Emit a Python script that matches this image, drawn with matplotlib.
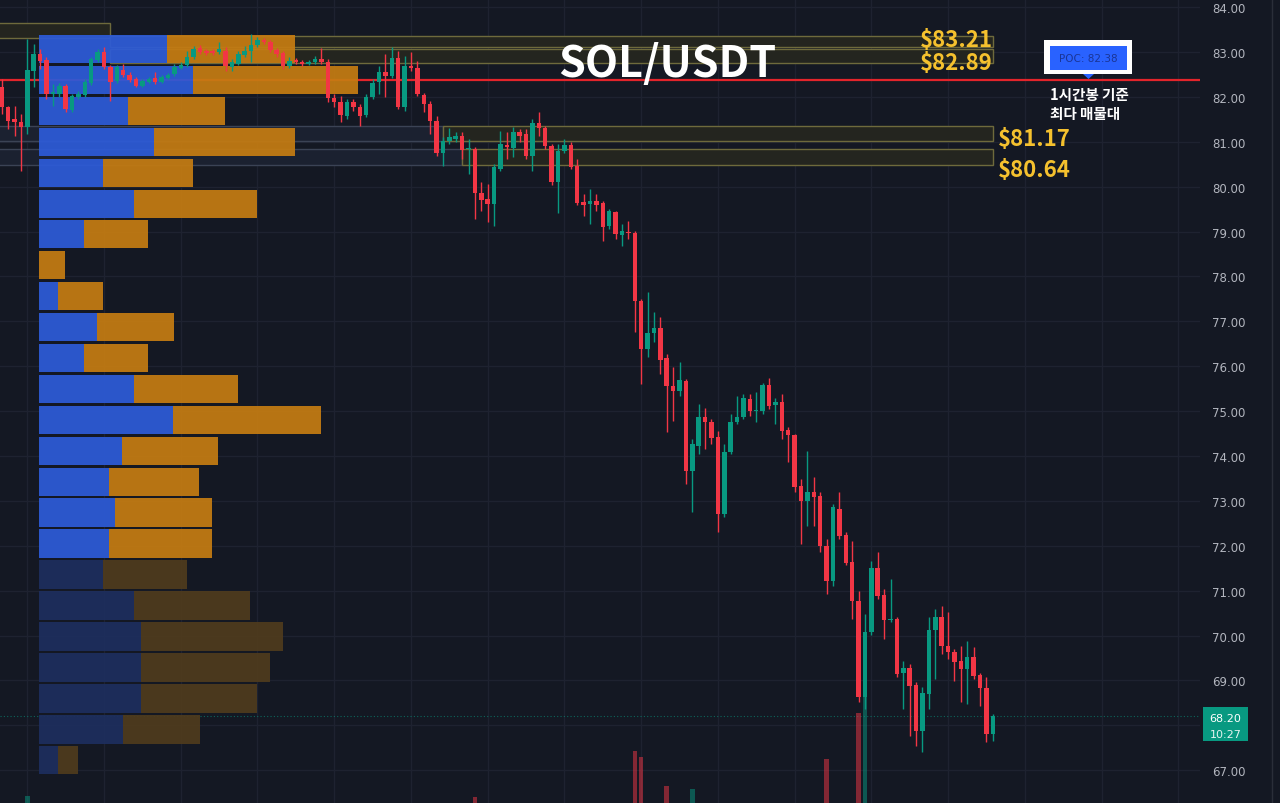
import numpy as np
import matplotlib
matplotlib.use('Agg')
import matplotlib.pyplot as plt
from matplotlib.patches import Rectangle, Polygon
from matplotlib.lines import Line2D

plt.rcParams['font.family'] = ['Noto Sans CJK KR', 'DejaVu Sans']

# SOL/USDT 1h candles
opens = [82.22, 81.77, 81.50, 81.44, 81.33, 82.57, 82.95, 82.82, 82.06, 82.06,
         82.24, 81.71, 82.00, 82.04, 82.31, 82.82, 83.00, 82.66, 82.35, 82.60,
         82.49, 82.40, 82.24, 82.33, 82.42, 82.33, 82.42, 82.51, 82.64, 82.71,
         82.89, 83.09, 83.02, 83.02, 83.00, 83.02, 82.66, 82.73, 82.93, 83.02,
         83.15, 83.26, 83.22, 83.04, 82.97, 82.69, 82.82, 82.77, 82.73, 82.77,
         82.84, 82.77, 81.97, 81.88, 81.57, 81.88, 81.77, 81.59, 82.00, 82.33,
         82.55, 82.46, 82.86, 81.77, 82.69, 82.64, 82.04, 81.84, 81.46, 80.75,
         81.01, 81.06, 81.13, 80.84, 80.84, 79.86, 79.72, 79.61, 80.39, 80.93,
         80.86, 81.21, 81.17, 80.68, 81.42, 81.30, 80.90, 80.10, 80.79, 80.93,
         80.46, 79.65, 79.61, 79.68, 79.63, 79.12, 79.43, 78.92, 78.99, 78.96,
         77.45, 76.38, 76.74, 76.85, 76.18, 75.55, 75.44, 75.67, 73.66, 74.22,
         74.86, 74.75, 74.42, 72.70, 74.08, 74.75, 74.86, 75.27, 75.00, 75.00,
         75.58, 75.13, 75.20, 74.58, 74.46, 73.33, 72.99, 73.19, 73.10, 71.99,
         71.21, 72.81, 72.24, 71.64, 70.76, 68.63, 70.07, 71.50, 70.90, 70.34,
         70.36, 69.16, 69.27, 68.89, 67.87, 68.69, 70.12, 70.41, 69.76, 69.63,
         69.43, 69.25, 69.52, 69.12, 68.83, 67.80]
highs = [82.40, 81.79, 81.79, 81.62, 83.29, 83.18, 83.06, 82.89, 82.28, 82.31,
         82.28, 82.06, 82.13, 82.40, 82.89, 83.06, 83.11, 82.71, 82.71, 82.73,
         82.55, 82.44, 82.40, 82.44, 82.55, 82.49, 82.53, 82.73, 82.77, 83.02,
         83.13, 83.15, 83.06, 83.06, 83.22, 83.11, 82.84, 83.02, 83.13, 83.40,
         83.33, 83.31, 83.26, 83.09, 83.02, 82.89, 82.86, 82.82, 82.82, 82.91,
         83.09, 82.84, 82.06, 82.02, 81.95, 81.95, 81.84, 82.06, 82.40, 82.69,
         82.95, 83.11, 83.02, 82.91, 83.00, 82.80, 82.08, 81.91, 81.57, 81.10,
         81.30, 81.21, 81.21, 81.06, 80.88, 80.10, 80.06, 80.50, 81.24, 81.21,
         81.33, 81.28, 81.28, 81.50, 81.66, 81.35, 80.95, 80.95, 81.06, 80.99,
         80.61, 79.83, 79.94, 79.83, 79.68, 79.50, 79.45, 79.16, 79.23, 79.01,
         77.49, 77.65, 77.20, 77.09, 76.27, 75.98, 76.09, 75.71, 74.37, 75.15,
         75.06, 74.82, 74.55, 74.26, 74.93, 75.33, 75.38, 75.38, 75.42, 75.62,
         75.73, 75.29, 75.38, 74.64, 74.49, 73.48, 74.11, 73.53, 73.19, 72.15,
         72.93, 73.19, 72.30, 72.10, 70.99, 70.47, 71.66, 71.86, 71.03, 71.25,
         70.41, 69.43, 69.36, 68.96, 68.85, 70.41, 70.59, 70.65, 70.52, 69.69,
         69.76, 69.87, 69.74, 69.16, 69.07, 68.25]
lows = [81.62, 81.28, 81.13, 80.35, 81.17, 82.22, 82.62, 81.95, 81.79, 82.00,
        81.66, 81.66, 81.95, 82.00, 82.26, 82.77, 82.62, 81.91, 82.31, 82.44,
        82.33, 82.22, 82.22, 82.31, 82.28, 82.31, 82.40, 82.46, 82.62, 82.66,
        82.84, 82.95, 82.93, 82.93, 82.95, 82.57, 82.57, 82.71, 82.89, 82.77,
        83.11, 83.18, 83.00, 82.89, 82.62, 82.64, 82.73, 82.69, 82.71, 82.73,
        82.73, 81.88, 81.77, 81.44, 81.50, 81.68, 81.35, 81.55, 81.95, 82.06,
        82.00, 82.42, 81.73, 81.68, 82.57, 82.02, 81.66, 81.17, 80.68, 80.46,
        80.95, 80.99, 80.61, 80.28, 79.28, 79.45, 79.21, 79.12, 80.35, 80.61,
        80.66, 80.99, 80.61, 80.35, 81.13, 80.84, 80.03, 79.41, 80.75, 80.39,
        79.59, 79.34, 79.16, 79.45, 78.79, 79.05, 78.83, 78.68, 78.83, 76.76,
        75.60, 76.20, 76.54, 75.82, 74.53, 74.78, 75.33, 73.37, 72.75, 74.04,
        74.15, 74.26, 72.30, 72.64, 74.04, 74.71, 74.82, 74.89, 74.75, 74.93,
        75.04, 74.71, 74.37, 73.86, 73.19, 72.03, 72.44, 72.44, 71.86, 70.92,
        71.10, 72.15, 71.57, 70.36, 68.51, 68.36, 70.01, 70.81, 69.92, 70.30,
        69.07, 68.36, 67.76, 67.54, 67.40, 68.36, 69.03, 69.58, 69.47, 68.98,
        68.51, 68.47, 69.03, 68.42, 67.62, 67.65]
closes = [81.77, 81.46, 81.44, 81.33, 82.60, 82.95, 82.80, 82.06, 82.11, 82.24,
          81.73, 82.02, 82.06, 82.33, 82.84, 83.00, 82.66, 82.33, 82.66, 82.49,
          82.37, 82.24, 82.35, 82.40, 82.33, 82.44, 82.49, 82.66, 82.71, 82.89,
          83.06, 83.00, 82.97, 82.97, 83.06, 82.69, 82.77, 82.95, 83.02, 83.15,
          83.26, 83.22, 83.04, 82.95, 82.69, 82.80, 82.77, 82.73, 82.77, 82.84,
          82.77, 81.97, 81.88, 81.59, 81.88, 81.77, 81.57, 82.00, 82.31, 82.55,
          82.46, 82.86, 81.77, 82.69, 82.64, 82.06, 81.84, 81.46, 80.75, 81.01,
          81.10, 81.13, 80.81, 80.86, 79.86, 79.70, 79.61, 80.43, 80.95, 80.88,
          81.21, 81.13, 80.68, 81.42, 81.30, 80.90, 80.10, 80.79, 80.93, 80.43,
          79.63, 79.59, 79.68, 79.59, 79.10, 79.45, 78.94, 79.01, 78.96, 77.45,
          76.38, 76.74, 76.85, 76.13, 75.55, 75.44, 75.69, 73.66, 74.26, 74.86,
          74.75, 74.40, 72.70, 74.08, 74.75, 74.86, 75.29, 75.00, 75.02, 75.58,
          75.11, 75.20, 74.55, 74.46, 73.30, 72.99, 73.19, 73.08, 71.99, 71.21,
          72.86, 72.21, 71.61, 70.76, 68.63, 70.07, 71.50, 70.88, 70.34, 70.36,
          69.14, 69.27, 68.87, 67.87, 68.71, 70.12, 70.41, 69.76, 69.63, 69.41,
          69.25, 69.52, 69.09, 68.83, 67.80, 68.20]

# volume bars that reach into the visible window (candle index, K SOL)
vol_idx = [4, 74, 99, 100, 104, 108, 129, 134, 135]
vol_k = [315, 310, 540, 510, 365, 350, 500, 730, 940]

# volume profile rows: centre price, buy / sell volume (K SOL)
vp_price = [83.07, 82.38, 81.69, 81.00, 80.31, 79.62, 78.94, 78.25, 77.56, 76.87,
            76.18, 75.49, 74.80, 74.11, 73.42, 72.74, 72.05, 71.36, 70.67, 69.98,
            69.29, 68.60, 67.91, 67.23]
vp_buy = [128, 154, 89, 115, 64, 95, 45, 0, 19, 58, 45, 95, 134, 83, 70, 76, 70,
          64, 95, 102, 102, 102, 84, 19]
vp_sell = [128, 165, 97, 141, 90, 123, 64, 26, 45, 77, 64, 104, 148, 96, 90, 97,
           103, 84, 116, 142, 129, 116, 77, 20]
va_low = 71.7
poc = 82.38
last_price = 68.20

# support / resistance zones: (from idx, to idx, low, high, style)
zones = [(-1, 17, 83.31, 83.64, 'olive'),
         (17, 155, 83.11, 83.35, 'olive'),
         (17, 155, 82.75, 83.06, 'olive'),
         (-1, 69, 81.01, 81.35, 'slate'),
         (69, 155, 81.01, 81.35, 'olive'),
         (-1, 72, 80.48, 80.84, 'slate'),
         (72, 155, 80.48, 80.84, 'olive')]
# label text, x idx, baseline price, alignment
zone_labels = [('$83.21', 155, 83.13, 'right'), ('$82.89', 155, 82.62, 'right'),
               ('$81.17', 155.8, 80.93, 'left'), ('$80.64', 155.8, 80.23, 'left')]

BG = '#141823'
UP, DOWN = '#089981', '#f23645'
GOLD = '#f5c12e'

fig = plt.figure(figsize=(12.8, 8.04), dpi=100, facecolor=BG)
ax = fig.add_axes([0, 0, 1200 / 1280, 1])
ax.set_facecolor(BG)
ax.set_xlim(-0.27, 187.4)
ax.set_ylim(66.27, 84.18)
for s in ax.spines.values():
    s.set_visible(False)

# price scale; the 68.00 label sits under the last-price tag
ax.yaxis.tick_right()
ax.set_yticks(range(67, 85))
ax.set_yticklabels(['' if v == 68 else '{:.2f}'.format(v) for v in range(67, 85)],
                   family='DejaVu Sans')
ax.tick_params(axis='y', length=0, pad=8.6, labelcolor='#b2b5be', labelsize=8.5)
ax.set_xticks(np.arange(4, 188, 12))
ax.tick_params(axis='x', length=0, labelbottom=False)
ax.grid(color='#1e2230', lw=1, zorder=0)
ax.set_axisbelow(True)

# zones
for x0, x1, lo, hi, st in zones:
    fc, ec = ('#24251f', '#6e6a3c') if st == 'olive' else ('#1b2130', '#3b4355')
    ax.add_patch(Rectangle((x0, lo), x1 - x0, hi - lo, fc=fc, ec=ec, lw=1, zorder=1))
for txt, x, y, ha in zone_labels:
    ax.text(x, y, txt, color=GOLD, fontsize=16, fontweight='bold', ha=ha,
            va='baseline', zorder=9)

# POC line and last price line
ax.axhline(poc, color='#e3242b', lw=1.6, zorder=3)
ax.axhline(last_price, color=UP, lw=0.8, ls=(0, (1, 2)), alpha=0.6, zorder=2)

# volume bars (bottom pane)
vax = ax.inset_axes([0, 0, 1, 1], zorder=4)
vax.set_xlim(ax.get_xlim())
vax.set_ylim(280, 4300)
vax.axis('off')
vcols = [UP if closes[i] >= opens[i] else DOWN for i in vol_idx]
vax.bar(vol_idx, vol_k, width=0.7, color=vcols, alpha=0.5, lw=0)

# fixed-range volume profile on the left
pax = ax.inset_axes([0, 0, 1, 1], zorder=5)
pax.set_xlim(-39, 1161)
pax.set_ylim(ax.get_ylim())
pax.axis('off')
buy_c = ['#2d5bd8' if p > va_low else '#1d2e5e' for p in vp_price]
sell_c = ['#c57c12' if p > va_low else '#4f3b1d' for p in vp_price]
pax.barh(vp_price, vp_buy, height=0.63, color=buy_c, alpha=0.93, lw=0)
pax.barh(vp_price, vp_sell, left=vp_buy, height=0.63, color=sell_c, alpha=0.93, lw=0)

# candles
o, h, l, c = map(np.array, (opens, highs, lows, closes))
idx = np.arange(len(o))
cols = np.where(c >= o, UP, DOWN)
ax.vlines(idx, l, h, colors=cols, lw=1, zorder=6)
ax.bar(idx, np.maximum(np.abs(c - o), 0.03), bottom=np.minimum(o, c), width=0.7,
       color=cols, lw=0, zorder=7)

# helpers in screen pixels for annotation boxes
def fx(x):
    return x / 1280

def fy(y):
    return 1 - y / 804

fig.text(fx(667), fy(77), 'SOL/USDT', color='white', fontsize=31, fontweight='bold',
         ha='center', va='baseline')

# POC tag
fig.add_artist(Rectangle((fx(1044), fy(75)), fx(88), 34 / 804, transform=fig.transFigure,
                         fc='white', ec='none'))
fig.add_artist(Rectangle((fx(1050), fy(71)), fx(77), 24 / 804, transform=fig.transFigure,
                         fc='#2962ff', ec='none'))
fig.add_artist(Polygon([(fx(1083), fy(75)), (fx(1094), fy(75)), (fx(1088.5), fy(80))],
                       closed=True, transform=fig.transFigure, fc='#2962ff', ec='none'))
fig.text(fx(1088.5), fy(59), 'POC: {:.2f}'.format(poc), color='#1a3596', fontsize=7.5,
         ha='center', va='center', family='DejaVu Sans')
fig.text(fx(1050), fy(100), '1시간봉 기준', color='white', fontsize=10.5, fontweight='bold',
         ha='left', va='baseline')
fig.text(fx(1050), fy(119), '최다 매물대', color='white', fontsize=10.5, fontweight='bold',
         ha='left', va='baseline')

# last price tag on the scale
fig.add_artist(Rectangle((fx(1203), fy(742)), fx(45), 34 / 804, transform=fig.transFigure,
                         fc=UP, ec='none'))
fig.text(fx(1225.5), fy(722), '{:.2f}'.format(last_price), color='white', fontsize=8,
         ha='center', va='baseline', family='DejaVu Sans')
fig.text(fx(1225.5), fy(738), '10:27', color='#e6f4f1', fontsize=8,
         ha='center', va='baseline', family='DejaVu Sans')

fig.add_artist(Line2D([fx(1272), fx(1272)], [0, 1], transform=fig.transFigure,
                      color='#2a2e39', lw=1))

fig.savefig('out.png', dpi=100, facecolor=BG)
